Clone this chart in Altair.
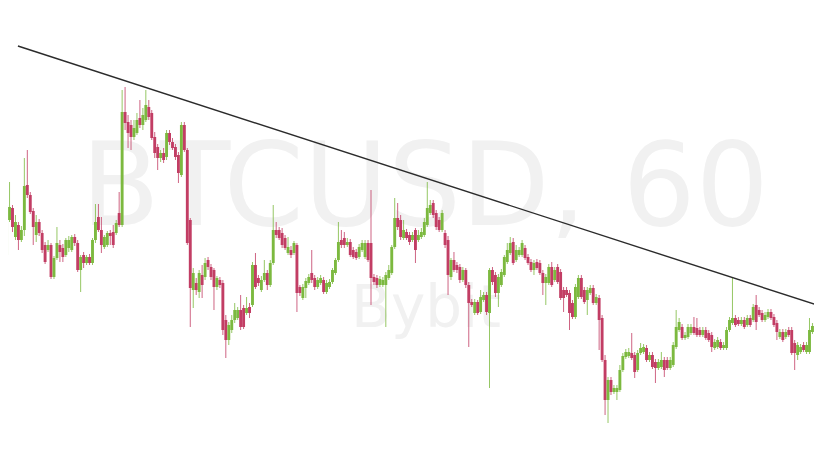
import altair as alt
import pandas as pd

# OHLC values (USD), one hourly candle per entry
opens = [
    9745, 9780, 9792, 9763, 9775, 9760, 9770, 9815, 9805, 9789,
    9765, 9778, 9767, 9755, 9750, 9755, 9723, 9742, 9755, 9752,
    9745, 9752, 9750, 9763, 9757, 9730, 9745, 9737, 9743, 9737,
    9760, 9783, 9770, 9753, 9755, 9767, 9768, 9767, 9787, 9775,
    9888, 9878, 9875, 9863, 9867, 9882, 9875, 9880, 9893, 9887,
    9863, 9853, 9842, 9847, 9843, 9867, 9858, 9853, 9845, 9825,
    9875, 9850, 9780, 9710, 9717, 9708, 9725, 9723, 9740, 9733,
    9730, 9713, 9720, 9717, 9680, 9660, 9670, 9680, 9682, 9690,
    9692, 9687, 9693, 9695, 9735, 9722, 9710, 9720, 9727, 9715,
    9737, 9770, 9770, 9767, 9762, 9747, 9750, 9747, 9755, 9713,
    9702, 9712, 9717, 9727, 9722, 9713, 9717, 9720, 9708, 9713,
    9718, 9727, 9740, 9760, 9762, 9755, 9758, 9750, 9748, 9743,
    9750, 9743, 9757, 9757, 9723, 9722, 9715, 9715, 9715, 9722,
    9727, 9753, 9782, 9780, 9762, 9768, 9765, 9760, 9770, 9760,
    9763, 9765, 9775, 9787, 9797, 9787, 9780, 9770, 9767, 9760,
    9723, 9740, 9735, 9733, 9720, 9730, 9715, 9698, 9687, 9698,
    9688, 9700, 9705, 9687, 9730, 9725, 9707, 9715, 9725, 9738,
    9747, 9758, 9740, 9745, 9745, 9752, 9743, 9738, 9730, 9738,
    9737, 9727, 9717, 9717, 9733, 9720, 9733, 9728, 9710, 9710,
    9707, 9697, 9683, 9703, 9722, 9710, 9700, 9707, 9712, 9697,
    9702, 9682, 9640, 9600, 9620, 9608, 9608, 9610, 9630, 9643,
    9644, 9647, 9645, 9630, 9647, 9648, 9652, 9640, 9645, 9638,
    9632, 9633, 9640, 9640, 9632, 9635, 9653, 9670, 9673, 9662,
    9663, 9667, 9673, 9672, 9670, 9665, 9670, 9667, 9665, 9652,
    9653, 9658, 9652, 9652, 9670, 9677, 9682, 9680, 9676, 9680,
    9675, 9682, 9680, 9695, 9690, 9687, 9680, 9683, 9688, 9683,
    9677, 9663, 9668, 9663, 9670, 9670, 9657, 9645, 9648, 9655,
    9648, 9648, 9668, 9677,
]
highs = [
    9815, 9818, 9795, 9785, 9778, 9774, 9842, 9850, 9808, 9792,
    9785, 9781, 9770, 9758, 9760, 9757, 9744, 9773, 9760, 9756,
    9762, 9764, 9765, 9766, 9760, 9745, 9748, 9745, 9746, 9762,
    9796, 9796, 9783, 9765, 9769, 9770, 9775, 9780, 9808, 9910,
    9913, 9885, 9880, 9880, 9887, 9900, 9892, 9910, 9900, 9890,
    9868, 9856, 9850, 9852, 9870, 9870, 9862, 9856, 9848, 9878,
    9878, 9852, 9782, 9732, 9722, 9730, 9735, 9742, 9743, 9736,
    9732, 9724, 9723, 9720, 9685, 9678, 9685, 9697, 9693, 9705,
    9695, 9703, 9697, 9738, 9747, 9725, 9724, 9740, 9730, 9740,
    9795, 9778, 9773, 9772, 9765, 9763, 9754, 9759, 9757, 9715,
    9716, 9722, 9726, 9750, 9725, 9723, 9725, 9723, 9720, 9721,
    9732, 9742, 9778, 9770, 9768, 9762, 9761, 9753, 9751, 9756,
    9760, 9760, 9760, 9810, 9726, 9725, 9724, 9723, 9728, 9735,
    9755, 9802, 9797, 9785, 9780, 9771, 9768, 9768, 9772, 9770,
    9772, 9782, 9818, 9800, 9800, 9790, 9783, 9790, 9770, 9764,
    9742, 9748, 9738, 9736, 9733, 9732, 9718, 9701, 9701, 9700,
    9710, 9708, 9708, 9732, 9733, 9728, 9726, 9731, 9745, 9757,
    9763, 9762, 9755, 9753, 9760, 9755, 9746, 9741, 9740, 9741,
    9740, 9730, 9726, 9736, 9738, 9733, 9736, 9731, 9713, 9713,
    9710, 9700, 9716, 9725, 9725, 9713, 9713, 9715, 9715, 9706,
    9705, 9685, 9645, 9623, 9623, 9615, 9615, 9635, 9647, 9651,
    9652, 9667, 9648, 9650, 9657, 9656, 9655, 9648, 9648, 9641,
    9641, 9648, 9643, 9643, 9643, 9658, 9690, 9682, 9676, 9668,
    9676, 9676, 9683, 9682, 9673, 9673, 9673, 9670, 9668, 9661,
    9663, 9661, 9658, 9673, 9683, 9722, 9685, 9683, 9683, 9683,
    9685, 9685, 9696, 9705, 9693, 9690, 9688, 9691, 9691, 9686,
    9680, 9671, 9671, 9671, 9673, 9673, 9660, 9658, 9656, 9658,
    9658, 9682, 9677, 9680,
]
lows = [
    9742, 9778, 9768, 9760, 9750, 9758, 9764, 9802, 9786, 9755,
    9758, 9764, 9747, 9736, 9748, 9721, 9721, 9740, 9738, 9738,
    9743, 9748, 9748, 9754, 9728, 9708, 9732, 9735, 9735, 9735,
    9757, 9768, 9747, 9751, 9753, 9755, 9752, 9765, 9773, 9773,
    9870, 9852, 9850, 9860, 9865, 9872, 9870, 9878, 9880, 9860,
    9842, 9830, 9838, 9837, 9840, 9855, 9850, 9840, 9817, 9823,
    9848, 9755, 9673, 9692, 9705, 9702, 9702, 9720, 9730, 9720,
    9690, 9710, 9712, 9665, 9642, 9655, 9667, 9677, 9680, 9670,
    9671, 9685, 9682, 9693, 9711, 9714, 9708, 9718, 9710, 9713,
    9735, 9762, 9760, 9752, 9750, 9745, 9742, 9745, 9688, 9704,
    9700, 9702, 9715, 9717, 9710, 9711, 9715, 9706, 9706, 9711,
    9716, 9725, 9738, 9752, 9752, 9753, 9743, 9741, 9740, 9741,
    9748, 9741, 9738, 9695, 9715, 9712, 9713, 9713, 9673, 9720,
    9725, 9751, 9770, 9760, 9760, 9760, 9755, 9758, 9737, 9758,
    9761, 9763, 9773, 9785, 9782, 9770, 9768, 9768, 9752, 9705,
    9720, 9728, 9727, 9717, 9718, 9712, 9653, 9693, 9685, 9685,
    9686, 9698, 9685, 9612, 9715, 9703, 9693, 9713, 9723, 9736,
    9745, 9735, 9738, 9743, 9743, 9740, 9735, 9728, 9725, 9730,
    9725, 9705, 9695, 9715, 9713, 9718, 9716, 9700, 9688, 9703,
    9670, 9681, 9681, 9701, 9701, 9696, 9685, 9705, 9695, 9695,
    9650, 9638, 9585, 9577, 9605, 9606, 9600, 9608, 9628, 9641,
    9642, 9640, 9622, 9628, 9645, 9646, 9638, 9638, 9631, 9617,
    9630, 9631, 9623, 9630, 9630, 9633, 9651, 9668, 9660, 9660,
    9661, 9665, 9665, 9663, 9663, 9663, 9660, 9658, 9648, 9650,
    9651, 9650, 9650, 9650, 9668, 9675, 9673, 9674, 9674, 9671,
    9673, 9673, 9678, 9670, 9683, 9678, 9678, 9681, 9680, 9673,
    9660, 9661, 9658, 9661, 9663, 9645, 9630, 9640, 9646, 9648,
    9646, 9646, 9666, 9670,
]
closes = [
    9795, 9793, 9773, 9778, 9760, 9770, 9814, 9805, 9788, 9773,
    9778, 9767, 9750, 9738, 9755, 9723, 9742, 9757, 9748, 9743,
    9760, 9760, 9763, 9757, 9730, 9743, 9737, 9743, 9737, 9760,
    9778, 9770, 9755, 9763, 9767, 9764, 9755, 9777, 9775, 9888,
    9877, 9867, 9863, 9872, 9880, 9875, 9885, 9895, 9883, 9862,
    9847, 9842, 9847, 9840, 9867, 9858, 9852, 9843, 9827, 9875,
    9850, 9757, 9712, 9727, 9710, 9727, 9715, 9737, 9733, 9723,
    9713, 9722, 9715, 9670, 9660, 9675, 9680, 9690, 9690, 9673,
    9673, 9692, 9687, 9735, 9713, 9717, 9720, 9727, 9715, 9737,
    9770, 9765, 9762, 9755, 9752, 9753, 9745, 9757, 9707, 9707,
    9713, 9719, 9723, 9720, 9713, 9720, 9722, 9708, 9717, 9718,
    9730, 9740, 9758, 9755, 9755, 9758, 9745, 9743, 9742, 9753,
    9757, 9757, 9740, 9722, 9718, 9715, 9721, 9720, 9725, 9730,
    9753, 9782, 9773, 9763, 9770, 9762, 9758, 9765, 9750, 9765,
    9768, 9778, 9792, 9795, 9785, 9773, 9770, 9787, 9755, 9725,
    9740, 9730, 9730, 9720, 9730, 9715, 9697, 9695, 9698, 9687,
    9703, 9705, 9688, 9730, 9718, 9707, 9723, 9728, 9743, 9750,
    9757, 9737, 9750, 9750, 9757, 9742, 9737, 9730, 9737, 9732,
    9727, 9717, 9723, 9733, 9715, 9730, 9718, 9702, 9702, 9705,
    9687, 9683, 9713, 9722, 9703, 9698, 9710, 9712, 9697, 9703,
    9680, 9640, 9600, 9620, 9608, 9612, 9612, 9630, 9644, 9648,
    9648, 9642, 9628, 9647, 9652, 9653, 9640, 9645, 9633, 9632,
    9638, 9640, 9630, 9632, 9640, 9655, 9673, 9678, 9662, 9665,
    9673, 9673, 9667, 9665, 9665, 9670, 9662, 9660, 9653, 9658,
    9660, 9652, 9655, 9670, 9680, 9682, 9675, 9676, 9680, 9673,
    9682, 9675, 9693, 9678, 9685, 9680, 9685, 9688, 9682, 9675,
    9668, 9668, 9660, 9668, 9665, 9647, 9647, 9655, 9653, 9650,
    9655, 9670, 9674, 9672,
]

# Trend line anchors (candle index, price)
trend_t = [3.83, 273.5]
trend_price = [9954, 9695]

watermark_title = "BTCUSD, 60"
watermark_sub = "Bybit"

GREEN = "#7cb93f"
RED = "#c23d64"

df = pd.DataFrame({
    "t": list(range(len(opens))),
    "open": opens, "high": highs, "low": lows, "close": closes,
})
trend = pd.DataFrame({"t": trend_t, "price": trend_price})

xs = alt.Scale(domain=[2.1667, 270.833], nice=False, zero=False)
ys = alt.Scale(domain=[9540, 9992], nice=False, zero=False)
color = alt.condition("datum.close >= datum.open", alt.value(GREEN), alt.value(RED))

wm1 = alt.Chart(pd.DataFrame({"label": [watermark_title]})).mark_text(
    font="DejaVu Sans", fontSize=115, color="#f1f1f1", align="center", baseline="alphabetic"
).encode(text="label:N", x=alt.value(417), y=alt.value(217))

wm2 = alt.Chart(pd.DataFrame({"label": [watermark_sub]})).mark_text(
    font="DejaVu Sans", fontSize=58, color="#f1f1f1", align="center", baseline="alphabetic"
).encode(text="label:N", x=alt.value(418), y=alt.value(319))

base = alt.Chart(df)
wicks = base.mark_rule(strokeWidth=1, opacity=0.8, clip=True).encode(
    x=alt.X("t:Q", scale=xs, axis=None),
    y=alt.Y("low:Q", scale=ys, axis=None),
    y2="high:Q",
    color=color,
)
bodies = base.mark_bar(size=2.9, clip=True).encode(
    x=alt.X("t:Q", scale=xs, axis=None),
    y=alt.Y("open:Q", scale=ys, axis=None),
    y2="close:Q",
    color=color,
)
line = alt.Chart(trend).mark_line(color="#2b2b2b", strokeWidth=1.4, clip=True).encode(
    x=alt.X("t:Q", scale=xs, axis=None),
    y=alt.Y("price:Q", scale=ys, axis=None),
)

chart = alt.layer(wm1, wm2, wicks, bodies, line).properties(
    width=806, height=452, padding=0, background="white"
).configure_view(stroke=None)

chart.save("out.html", embed_options={"renderer": "svg", "actions": False})
